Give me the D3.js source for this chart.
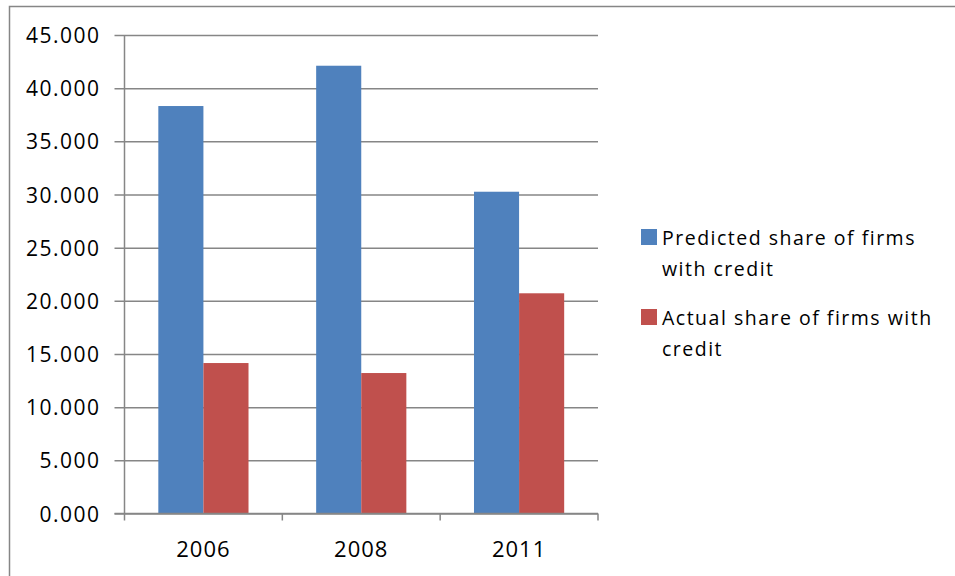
<!DOCTYPE html>
<html>
<head>
<meta charset="utf-8">
<script src="https://cdn.jsdelivr.net/npm/d3@7/dist/d3.min.js"></script>
<style>
  html, body { margin: 0; padding: 0; background: #fff; }
  svg { display: block; }
  text { font-family: "Open Sans", Lato, sans-serif; fill: #000; }
</style>
</head>
<body>
<svg id="chart" width="955" height="576"></svg>
<script>
// Chart data
const years = ["2006", "2008", "2011"];
const seriesNames = ["Predicted share of firms with credit", "Actual share of firms with credit"];
const predicted = [38.32, 42.11, 30.26];
const actual = [14.15, 13.21, 20.71];
const yTicks = [0, 5, 10, 15, 20, 25, 30, 35, 40, 45];
const colors = ["#4F81BD", "#C0504D"];
const legendLines = [["Predicted share of firms", "with credit"], ["Actual share of firms with", "credit"]];

const svg = d3.select("#chart");
const font = "'Open Sans', Lato, sans-serif";

// Outer chart frame (right and bottom edges fall outside the canvas)
svg.append("rect")
  .attr("x", 9.5).attr("y", 6.5)
  .attr("width", 1000).attr("height", 1000)
  .attr("fill", "none").attr("stroke", "#868686").attr("stroke-width", 1.5);

const plot = { left: 124.5, right: 598, top: 35, bottom: 513.5 };

const y = d3.scaleLinear().domain([0, 45]).range([plot.bottom, plot.top]);
const x0 = d3.scaleBand().domain(years).range([plot.left, plot.right]).paddingInner(0).paddingOuter(0);
// two bars per category with a 150% gap shared between both sides
const x1 = d3.scaleBand().domain([0, 1]).range([0, x0.bandwidth()]).paddingOuter(0.75).paddingInner(0);

// Horizontal gridlines with outside ticks
const yAxis = d3.axisLeft(y).tickValues(yTicks)
  .tickSize(-(plot.right - plot.left))
  .tickFormat(d => d3.format(".3f")(d));
const gy = svg.append("g").attr("transform", `translate(${plot.left},0)`).call(yAxis);
gy.select(".domain").remove();
gy.selectAll(".tick line")
  .attr("x1", -10)
  .attr("stroke", "#868686").attr("stroke-width", 1.5);
gy.selectAll(".tick text")
  .attr("x", -24).attr("dy", "0.36em")
  .style("font-size", "21px").style("letter-spacing", "1.5px")
  .style("font-family", font).attr("fill", "#000");

// Bars
const data = years.map((yr, i) => ({ yr, vals: [predicted[i], actual[i]] }));
const groups = svg.append("g").selectAll("g").data(data).join("g")
  .attr("transform", d => `translate(${x0(d.yr)},0)`);
groups.selectAll("rect").data(d => d.vals.map((v, k) => ({ v, k }))).join("rect")
  .attr("x", d => x1(d.k))
  .attr("width", x1.bandwidth())
  .attr("y", d => y(d.v))
  .attr("height", d => y(0) - y(d.v))
  .attr("fill", d => colors[d.k]);

// Category axis
const xAxis = d3.axisBottom(x0).tickSize(0);
const gx = svg.append("g").attr("transform", `translate(0,${plot.bottom})`).call(xAxis);
gx.select(".domain").remove();
gx.selectAll(".tick text")
  .attr("y", 43.5).attr("dy", 0)
  .style("font-size", "22px").style("letter-spacing", "1px")
  .style("font-family", font).attr("fill", "#000");

// Axis lines and category separators
svg.append("line")
  .attr("x1", plot.left).attr("x2", plot.left)
  .attr("y1", plot.top).attr("y2", plot.bottom)
  .attr("stroke", "#868686").attr("stroke-width", 1.5);
svg.append("line")
  .attr("x1", plot.left - 10).attr("x2", plot.right)
  .attr("y1", plot.bottom).attr("y2", plot.bottom)
  .attr("stroke", "#868686").attr("stroke-width", 1.5);
const sepX = [plot.left].concat(years.map(yr => x0(yr) + x0.bandwidth()));
svg.append("g").selectAll("line").data(sepX).join("line")
  .attr("x1", d => d).attr("x2", d => d)
  .attr("y1", plot.bottom).attr("y2", plot.bottom + 7)
  .attr("stroke", "#868686").attr("stroke-width", 1.5);

// Legend
const legend = svg.append("g");
const legendY = [229, 309];
seriesNames.forEach((name, k) => {
  const g = legend.append("g");
  g.append("rect")
    .attr("x", 641).attr("y", legendY[k])
    .attr("width", 16).attr("height", 16)
    .attr("fill", colors[k]);
  g.append("text")
    .attr("x", 662).attr("y", legendY[k] + 15.5)
    .style("font-size", "19.5px").style("letter-spacing", "1.5px")
    .selectAll("tspan").data(legendLines[k]).join("tspan")
    .attr("x", 662).attr("dy", (d, i) => i === 0 ? 0 : 31)
    .text(d => d);
});
</script>
</body>
</html>
